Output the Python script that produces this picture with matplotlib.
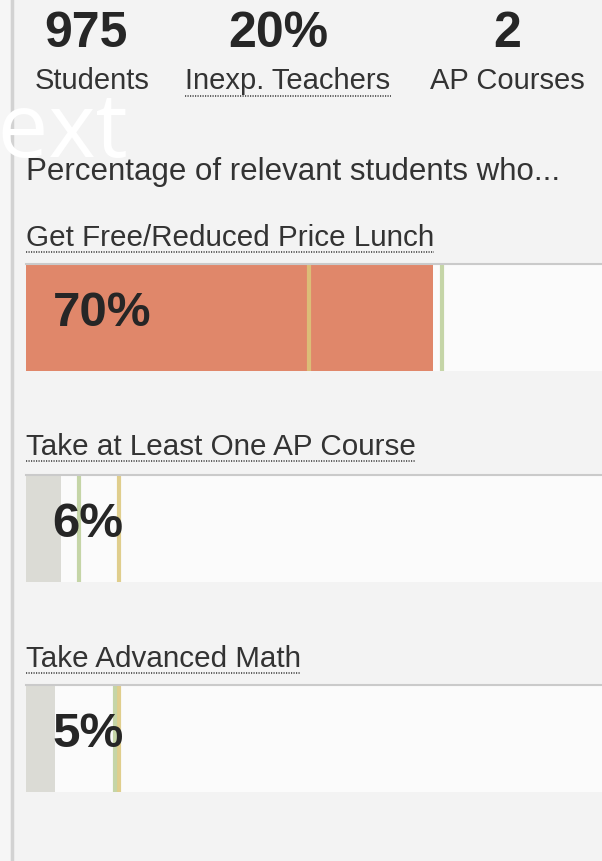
#!/usr/bin/env python3
"""School profile card - three stat numbers and three percentage bars."""

import matplotlib.pyplot as plt

# header numbers
stat_values = ["975", "20%", "2"]
stat_labels = ["Students", "Inexp. Teachers", "AP Courses"]
stat_dotted = [False, True, False]

# percentage bars
bar_titles = [
    "Get Free/Reduced Price Lunch",
    "Take at Least One AP Course",
    "Take Advanced Math",
]
bar_pcts = [70, 6, 5]
bar_colors = ["#e0876a", "#dbdbd5", "#dbdbd5"]
# comparison ticks drawn on each bar
yellow_marks = [48.7, 16.0, 16.0]
green_marks = [71.6, 9.1, 15.4]

W, H = 602, 862
BG = "#f3f3f3"


def px_axes(fig, left, top, width, height):
    "Axes placed with pixel coordinates (top-left origin)."
    return fig.add_axes([left / W, 1 - (top + height) / H, width / W, height / H])


def dotted_underline(fig, bg, txt, y):
    fig.canvas.draw()
    bb = txt.get_window_extent()
    inv = bg.transData.inverted()
    x0, _ = inv.transform((bb.x0, bb.y0))
    x1, _ = inv.transform((bb.x1, bb.y0))
    bg.plot([x0, x1], [y, y], color="#444444", lw=1.2,
            linestyle=(0, (0.7, 0.8)), solid_capstyle="butt")


def main():
    fig = plt.figure(figsize=(W / 100, H / 100), dpi=100, facecolor=BG)
    bg = fig.add_axes([0, 0, 1, 1])
    bg.set_xlim(0, W)
    bg.set_ylim(H, 0)
    bg.axis("off")

    # left border of the panel
    bg.axvspan(0, 10, color="#f6f6f6", lw=0)
    bg.axvline(11.5, color="#d2d2d2", lw=2.5)

    # header stats
    num_x = [86, 278, 507]
    lab_x = [92, 288, 507]
    for v, lab, dot, nx, lx in zip(stat_values, stat_labels, stat_dotted, num_x, lab_x):
        bg.text(nx, 34, v, ha="center", va="center", fontsize=36,
                fontweight="bold", color="#262626", family="Liberation Sans")
        t = bg.text(lx, 81, lab, ha="center", va="center", fontsize=21,
                    color="#333333", family="Liberation Sans")
        if dot:
            dotted_underline(fig, bg, t, 97)

    bg.text(26, 172, "Percentage of relevant students who...", ha="left",
            va="center", fontsize=22.5, color="#333333", family="Liberation Sans")

    # watermark-like white text, mostly cut at the left edge
    bg.text(-52, 157, "Text", ha="left", va="baseline", fontsize=65,
            color="white", family="Open Sans")

    title_y = [238, 447, 659]
    bar_top = [265, 476, 686]
    for i, title in enumerate(bar_titles):
        t = bg.text(26, title_y[i], title, ha="left", va="center", fontsize=21.3,
                    color="#333333", family="Liberation Sans")
        dotted_underline(fig, bg, t, title_y[i] + 15)

        ax = px_axes(fig, 26, bar_top[i], 581, 107)
        ax.set_facecolor("#fbfbfb")
        ax.set_xlim(0, 100)
        ax.set_ylim(0, 1)
        ax.barh(0.5, bar_pcts[i], height=1, color=bar_colors[i], lw=0)
        ax.axvline(yellow_marks[i], color="#dcc77a", lw=3, alpha=0.85)
        ax.axvline(green_marks[i], color="#bccf98", lw=3, alpha=0.85)
        ax.set_xticks([])
        ax.set_yticks([])
        for s in ["left", "right", "bottom"]:
            ax.spines[s].set_visible(False)
        ax.spines["top"].set_color("#cacaca")
        ax.spines["top"].set_linewidth(1.5)
        ax.text(4.6, 0.55, f"{bar_pcts[i]}%", ha="left", va="center",
                fontsize=35.5, fontweight="bold", color="#262626",
                family="Liberation Sans")

    fig.savefig("out.png", dpi=100, facecolor=BG)


if __name__ == "__main__":
    main()
